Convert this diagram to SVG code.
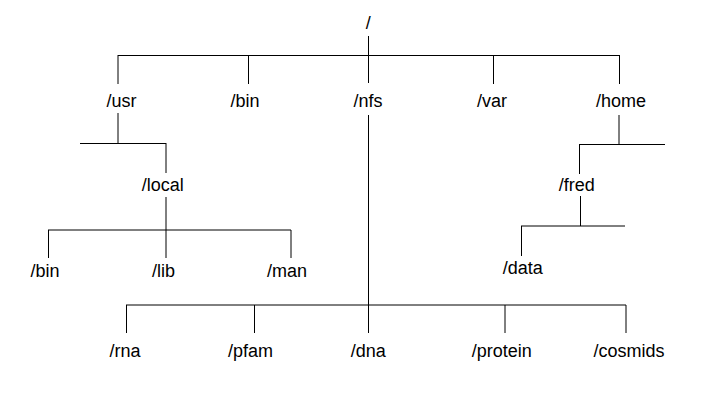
<svg xmlns="http://www.w3.org/2000/svg" width="702" height="408" viewBox="0 0 702 408">
<style>
text{font-family:"Liberation Sans",Arial,sans-serif;font-size:18px;fill:#000;text-anchor:middle}
.c line{stroke:#000;stroke-width:1;fill:none}
</style>
<rect width="702" height="408" fill="#fff"/>
<g id="connectors" class="c">
<line x1="368.5" y1="36" x2="368.5" y2="56"/>
<line x1="118" y1="55.5" x2="620" y2="55.5"/>
<line x1="118" y1="55" x2="118" y2="84"/>
<line x1="248.5" y1="55" x2="248.5" y2="84"/>
<line x1="368.5" y1="55" x2="368.5" y2="83"/>
<line x1="493.5" y1="55" x2="493.5" y2="84"/>
<line x1="619.5" y1="55" x2="619.5" y2="84"/>
<line x1="118" y1="113" x2="118" y2="143"/>
<line x1="80" y1="143.5" x2="166" y2="143.5"/>
<line x1="166" y1="143" x2="166" y2="173"/>
<line x1="166" y1="197" x2="166" y2="230"/>
<line x1="48" y1="230" x2="291" y2="230"/>
<line x1="48.5" y1="230" x2="48.5" y2="258"/>
<line x1="166" y1="230" x2="166" y2="258"/>
<line x1="291" y1="230" x2="291" y2="258"/>
<line x1="368.5" y1="115" x2="368.5" y2="333"/>
<line x1="126" y1="305" x2="626" y2="305"/>
<line x1="126.5" y1="305" x2="126.5" y2="333"/>
<line x1="254.5" y1="305" x2="254.5" y2="333"/>
<line x1="505" y1="305" x2="505" y2="333"/>
<line x1="626" y1="305" x2="626" y2="333"/>
<line x1="619" y1="115" x2="619" y2="144"/>
<line x1="579" y1="144.5" x2="665" y2="144.5"/>
<line x1="579.5" y1="144" x2="579.5" y2="174"/>
<line x1="580.5" y1="196" x2="580.5" y2="226"/>
<line x1="521" y1="226" x2="625" y2="226"/>
<line x1="521.5" y1="226" x2="521.5" y2="256"/>
</g>
<g id="root"><text x="368.3" y="29">/</text></g>
<g id="usr"><text x="121.5" y="107">/usr</text></g>
<g id="bin"><text x="245" y="107">/bin</text></g>
<g id="nfs"><text x="368" y="107">/nfs</text></g>
<g id="var"><text x="492" y="107">/var</text></g>
<g id="home"><text x="621" y="107">/home</text></g>
<g id="local"><text x="162.7" y="190.7">/local</text></g>
<g id="fred"><text x="576.7" y="190.7">/fred</text></g>
<g id="local-bin"><text x="45" y="276.5">/bin</text></g>
<g id="lib"><text x="163.5" y="276.5">/lib</text></g>
<g id="man"><text x="287" y="276.5">/man</text></g>
<g id="data"><text x="522.7" y="274">/data</text></g>
<g id="rna"><text x="125" y="357">/rna</text></g>
<g id="pfam"><text x="250.5" y="357">/pfam</text></g>
<g id="dna"><text x="368.3" y="357">/dna</text></g>
<g id="protein"><text x="501.7" y="357">/protein</text></g>
<g id="cosmids"><text x="629" y="357">/cosmids</text></g>
</svg>
